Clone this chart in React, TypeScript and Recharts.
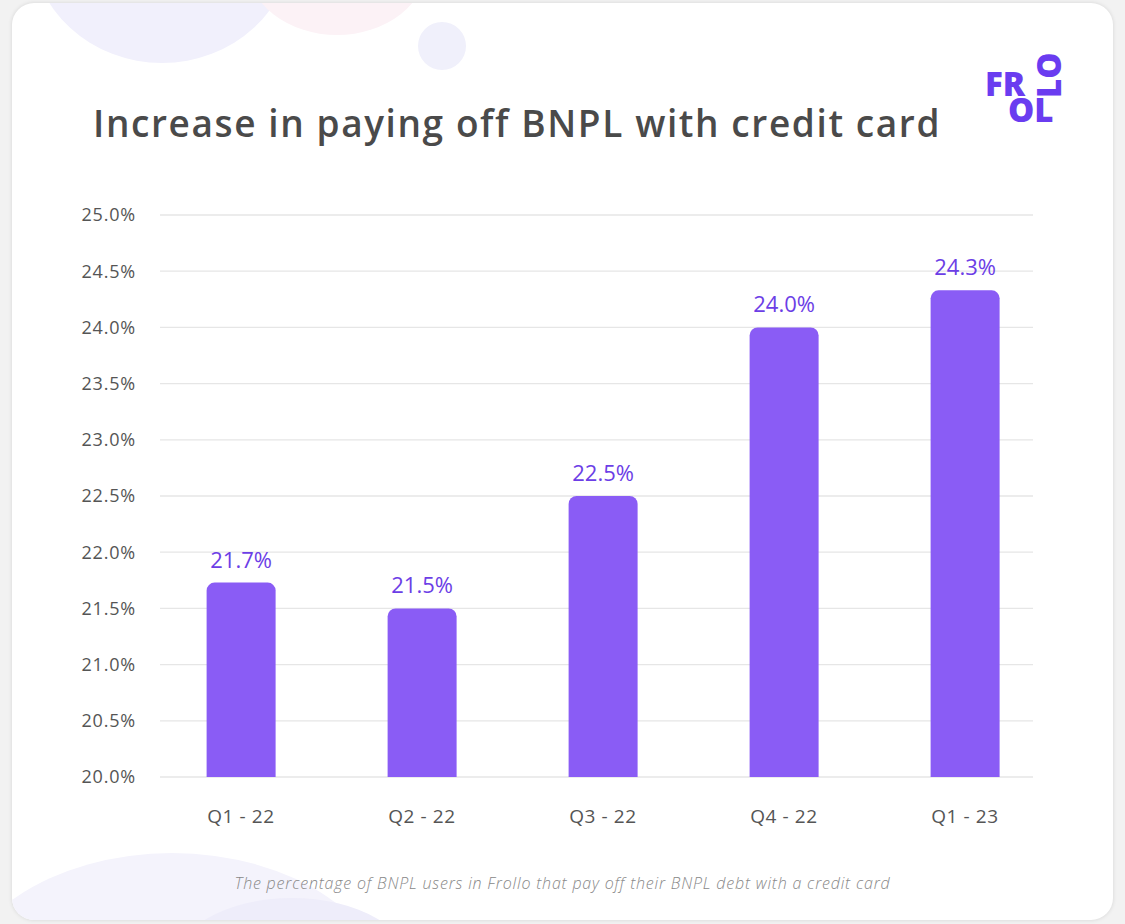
import React from "react";
import { Bar, BarChart, CartesianGrid, LabelList, XAxis, YAxis } from "recharts";

const quarters = ["Q1 - 22", "Q2 - 22", "Q3 - 22", "Q4 - 22", "Q1 - 23"];
const shareWithCard = [21.73, 21.5, 22.5, 24.0, 24.33];
const yTicks = [20, 20.5, 21, 21.5, 22, 22.5, 23, 23.5, 24, 24.5, 25];

const data = quarters.map((q, i) => ({ quarter: q, share: shareWithCard[i] }));

const FONT = "'Open Sans', 'DejaVu Sans', sans-serif";
const LOGO = "#6a3cf0";
const pct = (v: number) => `${Number(v).toFixed(1)}%`;

// Frollo logo: "FR / OL" block plus the right column read upwards
function Logo() {
  return (
    <>
      <div
        style={{
          position: "absolute", left: 985, top: 71.2, fontFamily: FONT, fontWeight: 800, fontSize: 33,
          lineHeight: "26px", whiteSpace: "pre", wordSpacing: -0.9, color: LOGO,
        }}
      >
        {"FR\n   OL"}
      </div>
      <svg width={1125} height={160} style={{ position: "absolute", left: 0, top: 0 }}>
        <text transform="translate(1061,98) rotate(-90)" fontFamily={FONT} fontWeight={800} fontSize={33} fill={LOGO}>
          LO
        </text>
      </svg>
    </>
  );
}

export default function App() {
  return (
    <div style={{ position: "absolute", left: 0, top: 0, width: 1125, height: 924, background: "#f2f2f2", overflow: "hidden" }}>
      <div
        style={{
          position: "absolute", left: 12, top: 3, width: 1101, height: 917, background: "#fff",
          borderRadius: 22, boxShadow: "0 0 4px rgba(0,0,0,0.12)", overflow: "hidden",
        }}
      >
        <div style={{ position: "absolute", left: 20, top: -180, width: 260, height: 240, borderRadius: "50%", background: "#f1f0fc" }} />
        <div style={{ position: "absolute", left: 235, top: -110, width: 180, height: 142, borderRadius: "50%", background: "#fcf2f6" }} />
        <div style={{ position: "absolute", left: 406, top: 19, width: 48, height: 48, borderRadius: "50%", background: "#f0f0fb" }} />
        <div style={{ position: "absolute", left: -60, top: 850, width: 440, height: 300, borderRadius: "50%", background: "#f4f3fc" }} />
        <div style={{ position: "absolute", left: 160, top: 895, width: 240, height: 140, borderRadius: "50%", background: "#eeedfa" }} />
      </div>
      <div
        style={{
          position: "absolute", left: 93, top: 98, fontFamily: FONT, fontWeight: 600, fontSize: 37,
          letterSpacing: 1.6, color: "#4a4a4a", whiteSpace: "nowrap", lineHeight: "50px",
        }}
      >
        Increase in paying off BNPL with credit card
      </div>
      <Logo />
      <div style={{ position: "absolute", left: 0, top: 0 }}>
        <BarChart
          width={1125}
          height={924}
          data={data}
          margin={{ top: 215, right: 69.5, bottom: 117, left: 0 }}
          barCategoryGap="31%"
        >
          <CartesianGrid vertical={false} x={160} width={873} stroke="#e6e6e6" strokeWidth={1.3} />
          <XAxis
            dataKey="quarter"
            height={30}
            axisLine={false}
            tickLine={false}
            tickSize={0}
            tickMargin={33}
            tick={{ fill: "#555", fontSize: 19, fontFamily: FONT, letterSpacing: 0.6 }}
          />
          <YAxis
            width={150.5}
            domain={[20, 25]}
            ticks={yTicks}
            tickFormatter={pct}
            axisLine={false}
            tickLine={false}
            tickSize={0}
            tickMargin={14.5}
            tick={{ fill: "#555", fontSize: 18, fontFamily: FONT, letterSpacing: 0.8 }}
          />
          <Bar dataKey="share" fill="#8a5cf5" radius={[8, 8, 0, 0]} isAnimationActive={false}>
            <LabelList dataKey="share" position="top" offset={15} formatter={pct} fill="#6c3ee6" fontSize={22} fontFamily={FONT} />
          </Bar>
        </BarChart>
      </div>
      <div
        style={{
          position: "absolute", left: 0, width: 1125, top: 872, textAlign: "center", fontFamily: FONT,
          fontStyle: "italic", fontWeight: 300, fontSize: 16, letterSpacing: 0.8, color: "#888", lineHeight: "22px",
        }}
      >
        The percentage of BNPL users in Frollo that pay off their BNPL debt with a credit card
      </div>
    </div>
  );
}
